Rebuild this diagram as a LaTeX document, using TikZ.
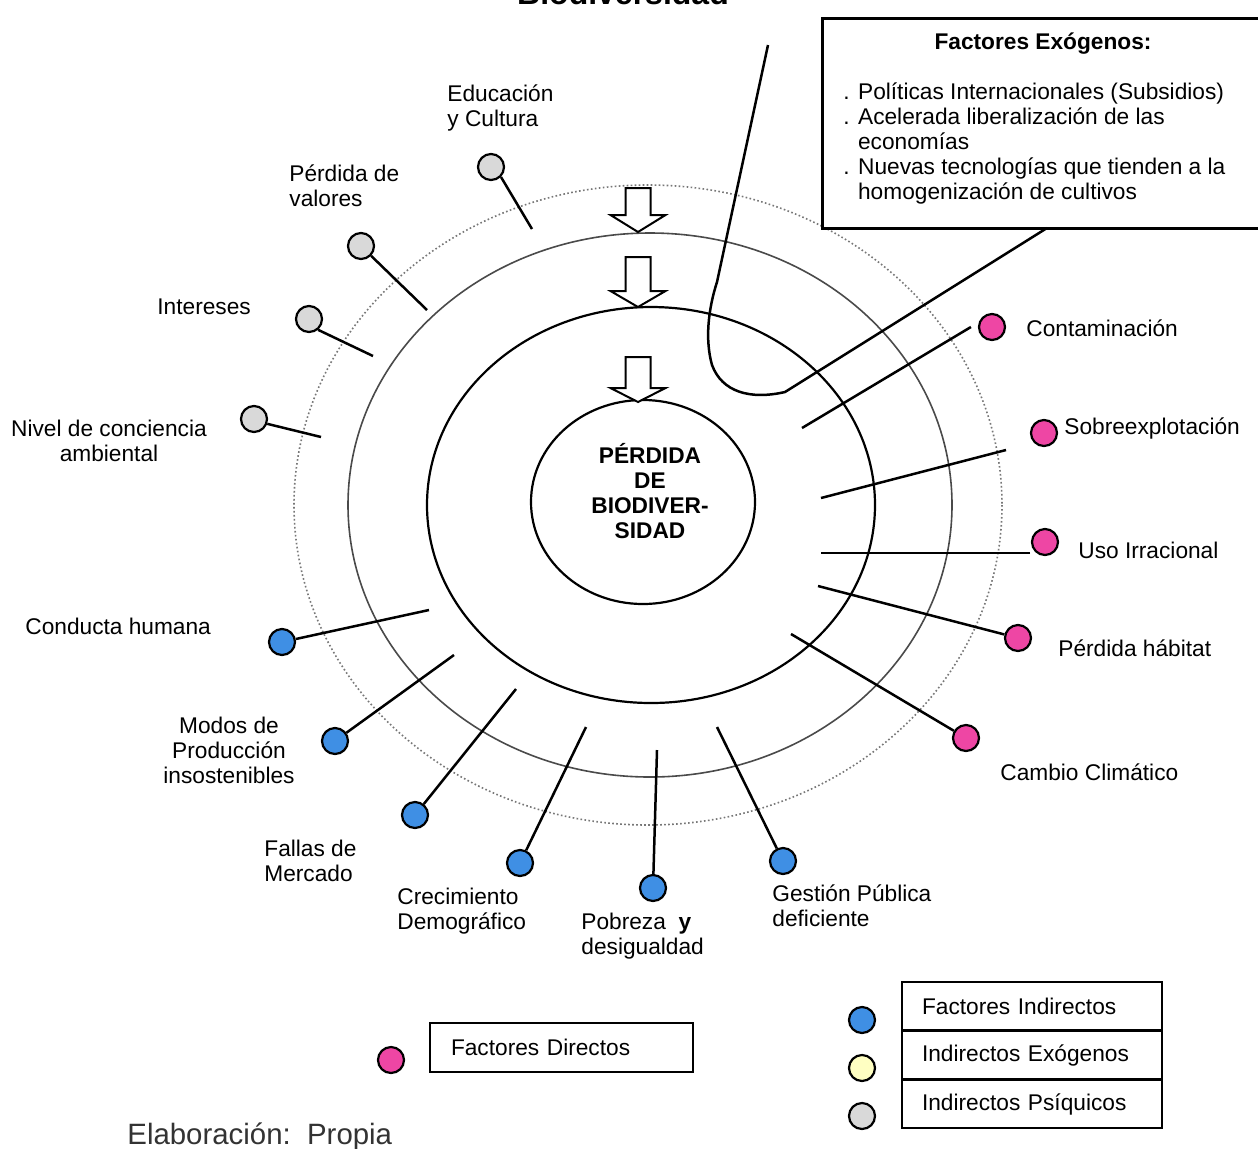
\documentclass[tikz,border=0pt]{standalone}
\usepackage{fontspec}
\setmainfont{Liberation Sans}

\definecolor{pinkdot}{HTML}{EE46A4}
\definecolor{bluedot}{HTML}{3F8FE4}
\definecolor{graydot}{HTML}{D9D9D9}
\definecolor{yellowdot}{HTML}{FFFFC2}
\definecolor{ringgray}{HTML}{4A4A4A}
\definecolor{dotgray}{HTML}{777777}

% label font and struts that give every label box the same top and bottom
\newcommand{\lblfont}{\fontsize{11.35pt}{12.5pt}\selectfont}
\newcommand{\lbltop}{\rule{0pt}{11pt}}
\newcommand{\lblbot}{\rule[-3pt]{0pt}{3pt}}

\begin{document}
\begin{tikzpicture}[x=0.5pt,y=-0.5pt,
  factordot/.style={circle, draw=black, line width=1.1pt, minimum size=13pt, inner sep=0pt},
  directo/.style={factordot, fill=pinkdot},
  indirecto/.style={factordot, fill=bluedot},
  psiquico/.style={factordot, fill=graydot},
  exogeno/.style={factordot, fill=yellowdot},
  link/.style={draw=black, line width=1.25pt},
  lbl/.style={inner sep=0pt, font=\lblfont, align=left, anchor=west},
  clbl/.style={inner sep=0pt, font=\lblfont, align=center, anchor=center},
  ringdots/.style={draw=dotgray, line width=0.8pt, dash pattern=on 0.8pt off 1.2pt},
  ringthin/.style={draw=ringgray, line width=0.8pt},
  ringbold/.style={draw=black, line width=1.1pt},
  pushdown/.style={draw=black, line width=1pt, fill=white, line join=miter},
  exobox/.style={draw=black, line width=1.3pt, fill=white, inner sep=0pt},
  keybox/.style={draw=black, line width=1pt, fill=white, font=\lblfont, align=left, inner ysep=0pt},
]
\useasboundingbox (0,0) rectangle (1258,1148);
\fill[white] (0,0) rectangle (1258,1148);

% title, running off the top edge
\node[font=\fontsize{16pt}{19pt}\selectfont\bfseries, anchor=base, inner sep=0pt] (title) at (623,4) {Biodiversidad};

% concentric rings
\draw[ringdots] (648,505) ellipse [x radius=354, y radius=320];
\draw[ringthin] (650,505) ellipse [x radius=302, y radius=272];
\draw[ringbold, fill=white] (651,505) ellipse [x radius=224, y radius=198];
\draw[ringbold, fill=white] (643,502) ellipse [x radius=112, y radius=102];

% hollow arrows pushing inwards
\foreach \t/\b/\p in {188/215/232, 257/291/307, 357/388/402}
  \draw[pushdown] (625.5,\t) -- (650.5,\t) -- (650.5,\b) -- (665.5,\b) -- (638,\p)
     -- (610.5,\b) -- (625.5,\b) -- cycle;

% core
\node[clbl, font=\lblfont\bfseries] (core) at (650,493)
  {\lbltop P\'ERDIDA\\DE\\BIODIVER-\\SIDAD\lblbot};

% psychological indirect factors
\node[psiquico] (g1) at (491,167) {};
\node[psiquico] (g2) at (361,246) {};
\node[psiquico] (g3) at (309,319) {};
\node[psiquico] (g4) at (254,419) {};
\coordinate (eg1) at (532,229);
\coordinate (eg2) at (427,310);
\coordinate (eg3) at (373,356);
\coordinate (eg4) at (321,437);
\draw[link] (g1.-45) -- (eg1);
\draw[link] (g2) -- (eg2);
\draw[link] (g3.-50) -- (eg3);
\draw[link] (g4.-20) -- (eg4);

% direct factors
\node[directo] (p1) at (992,327) {};
\node[directo] (p2) at (1044,433) {};
\node[directo] (p3) at (1045,542) {};
\node[directo] (p4) at (1018,638) {};
\node[directo] (p5) at (966,738) {};
\coordinate (ep1) at (802,428);
\coordinate (ep2) at (821,498);
\coordinate (ep3) at (821,553);
\coordinate (ep4) at (818,586);
\coordinate (ep5) at (791,634);
\draw[link] ([xshift=-3.5pt]p1.west) -- (ep1);
\draw[link] ([shift={(-19pt,-8.5pt)}]p2.center) -- (ep2);
\draw[link] ([shift={(-7.5pt,-5.5pt)}]p3.center) -- (ep3);
\draw[link] (p4) -- (ep4);
\draw[link] (p5) -- (ep5);

% indirect factors
\node[indirecto] (b1) at (282,642) {};
\node[indirecto] (b2) at (335,741) {};
\node[indirecto] (b3) at (415,815) {};
\node[indirecto] (b4) at (520,863) {};
\node[indirecto] (b5) at (653,888) {};
\node[indirecto] (b6) at (783,861) {};
\coordinate (eb1) at (429,610);
\coordinate (eb2) at (454,655);
\coordinate (eb3) at (516,689);
\coordinate (eb4) at (586,727);
\coordinate (eb5) at (657,750);
\coordinate (eb6) at (717,727);
\draw[link] (b1) -- (eb1);
\draw[link] (b2) -- (eb2);
\draw[link] (b3) -- (eb3);
\draw[link] (b4) -- (eb4);
\draw[link] (b5) -- (eb5);
\draw[link] (b6) -- (eb6);

% labels
\node[lbl] (l-edu) at (447,105.5) {\lbltop Educación\\y Cultura\lblbot};
\node[lbl] (l-val) at (289,185.5) {\lbltop Pérdida de\\valores\lblbot};
\node[lbl] (l-int) at (157,306) {\lbltop Intereses\lblbot};
\node[clbl] (l-niv) at (109,440.5) {\lbltop Nivel de conciencia\\ambiental\lblbot};
\node[lbl] (l-con) at (1026,328) {\lbltop Contaminación\lblbot};
\node[lbl] (l-sob) at (1064,426) {\lbltop Sobreexplotación\lblbot};
\node[lbl] (l-uso) at (1078,550) {\lbltop Uso Irracional\lblbot};
\node[lbl] (l-hab) at (1058,648) {\lbltop Pérdida hábitat\lblbot};
\node[lbl] (l-cli) at (1000,772) {\lbltop Cambio Climático\lblbot};
\node[lbl] (l-cond) at (25,626) {\lbltop Conducta humana\lblbot};
\node[clbl] (l-mod) at (229,750) {\lbltop Modos de\\Producción\\insostenibles\lblbot};
\node[lbl] (l-fal) at (264,861) {\lbltop Fallas de\\Mercado\lblbot};
\node[lbl] (l-cre) at (397,909) {\lbltop Crecimiento\\Demográfico\lblbot};
\node[lbl] (l-pob) at (581,933.5) {\lbltop Pobreza\ \ \textbf{y}\\desigualdad\lblbot};
\node[lbl] (l-ges) at (772,905.5) {\lbltop Gestión Pública\\deficiente\lblbot};

% exogenous factors box and its callout
\node[exobox, anchor=north west, minimum width=224.5pt, minimum height=105pt] (exo) at (821,17) {};
\node[clbl, font=\lblfont\bfseries] (exo-title) at (1043,41) {\lbltop Factores Exógenos:\lblbot};
\node[lbl] (exo-list) at (843,141)
  {\lbltop. Políticas Internacionales (Subsidios)\\. Acelerada liberalización de las\\\phantom{. }economías\\. Nuevas tecnologías que tienden a la\\\phantom{. }homogenización de cultivos\lblbot};
\coordinate (cTop) at (768,45);
\coordinate (cBox) at (1047,228);
\draw[link] (cTop) -- (717,282) .. controls (708,310) and (705,340) .. (712,365)
   .. controls (722,392) and (750,400) .. (785,392) -- (cBox);

% keys
\node[directo] (k-dir) at (391,1060) {};
\node[keybox, minimum width=131.5pt, minimum height=24.5pt, text width=110.5pt, inner xsep=10.5pt] (k-dir-box) at (561.5,1047.5) {Factores Directos};

\node[keybox, minimum width=130pt, minimum height=24pt, text width=110pt, inner xsep=10pt] (k-ind-box) at (1032,1006) {Factores Indirectos};
\node[keybox, minimum width=130pt, minimum height=24pt, text width=110pt, inner xsep=10pt] (k-exo-box) at (1032,1055) {Indirectos Exógenos};
\node[keybox, minimum width=130pt, minimum height=24pt, text width=110pt, inner xsep=10pt] (k-psi-box) at (1032,1104) {Indirectos Psíquicos};
\node[indirecto] (k-ind) at (862,1020) {};
\node[exogeno] (k-exo) at (862,1068) {};
\node[psiquico] (k-psi) at (862,1116) {};

% source note
\node[anchor=base west, inner sep=0pt, font=\fontsize{14.7pt}{17pt}\selectfont, text=black!80] (source) at (127,1144) {Elaboración:\ \ Propia};
\end{tikzpicture}
\end{document}
